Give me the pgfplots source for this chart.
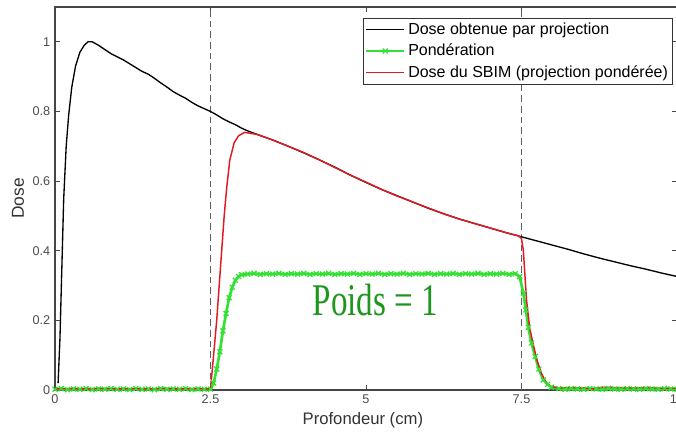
\documentclass[border=0pt]{standalone}
\usepackage{fontspec}
\setmainfont{Liberation Sans}
\newfontfamily\serifont{Liberation Serif}
\usepackage{pgfplots}
\pgfplotsset{compat=1.18}
\definecolor{pgreen}{RGB}{50,225,50}
\definecolor{tgreen}{RGB}{30,150,30}
\definecolor{axgray}{RGB}{70,70,70}
\definecolor{dgray}{RGB}{95,95,95}
\definecolor{sred}{RGB}{225,25,35}
\begin{document}
\begin{tikzpicture}
\begin{axis}[
  scale only axis,
  width=466.5pt, height=287.25pt,
  xmin=0, xmax=10, ymin=0, ymax=1.1,
  xtick={0,2.5,5,7.5,10},
  xticklabels={0,2.5,5,7.5,10},
  ytick={0,0.2,0.4,0.6,0.8,1},
  yticklabels={0,0.2,0.4,0.6,0.8,1},
  tick align=inside,
  major tick length=3.75pt,
  axis line style={axgray, line width=0.8pt},
  tick style={axgray, line width=0.7pt},
  tick label style={font=\fontsize{9.5}{11}\selectfont, text=black!70},
  xlabel={Profondeur (cm)},
  ylabel={Dose},
  xlabel style={font=\fontsize{12.5}{14}\selectfont, text=black!80, at={(axis description cs:0.495,-0.078)}, anchor=center},
  ylabel style={font=\fontsize{13}{15}\selectfont, text=black!80, at={(axis description cs:-0.0595,0.5)}, anchor=center},
  clip=false,
  legend style={at={(rel axis cs:0.9936,0.972)}, anchor=north east,
    font=\fontsize{12}{14}\selectfont, draw=black!80, line width=0.6pt,
    inner sep=1.5pt, row sep=1.8pt, fill=white},
  legend cell align=left,
  legend image code/.code={\draw[mark repeat=2, mark phase=2] plot coordinates {(0cm,0cm) (0.5cm,0cm) (1cm,0cm)};},
]
% dashed verticals
\addplot[dgray, line width=1pt, dash pattern=on 5pt off 3pt, forget plot] coordinates {(2.5,0) (2.5,1.1)};
\addplot[dgray, line width=1pt, dash pattern=on 5pt off 3pt, forget plot] coordinates {(7.5,0) (7.5,1.1)};

% Dose obtenue par projection
\addplot[black, line width=1pt] coordinates {
(0.05,0.02) (0.08,0.15) (0.11,0.35) (0.14,0.55) (0.18,0.70) (0.22,0.79)
(0.27,0.87) (0.33,0.93) (0.40,0.97) (0.47,0.99) (0.53,1.00) (0.60,1.00)
(0.70,0.99) (0.80,0.978) (0.90,0.966) (1.00,0.957) (1.10,0.948) (1.20,0.937)
(1.30,0.926) (1.40,0.915) (1.50,0.907) (1.60,0.895) (1.70,0.882) (1.80,0.870)
(1.90,0.857) (2.00,0.847) (2.10,0.838) (2.20,0.826) (2.30,0.816) (2.40,0.808)
(2.50,0.800) (2.60,0.790) (2.70,0.779) (2.80,0.770) (2.90,0.762) (3.00,0.752)
(3.10,0.744) (3.25,0.734) (3.50,0.718) (3.75,0.700) (4.00,0.681) (4.25,0.661)
(4.50,0.640) (4.75,0.617) (5.00,0.596) (5.25,0.576) (5.50,0.558) (5.75,0.540)
(6.00,0.522) (6.25,0.506) (6.50,0.491) (6.75,0.478) (7.00,0.465) (7.25,0.452)
(7.50,0.440) (7.75,0.428) (8.00,0.416) (8.25,0.404) (8.50,0.391) (8.75,0.379)
(9.00,0.368) (9.25,0.357) (9.50,0.347) (9.75,0.336) (10.0,0.326)
};
\addlegendentry{Dose obtenue par projection}

% Ponderation
\addplot[pgreen, line width=2pt, mark=x, mark size=2.6pt, mark options={line width=1pt}] coordinates {
(0.0,0.002) (0.1,0.004) (0.2,0.001) (0.3,0.003) (0.4,0.002) (0.5,0.004) (0.6,0.001)
(0.7,0.003) (0.8,0.002) (0.9,0.004) (1.0,0.002) (1.1,0.003) (1.2,0.001) (1.3,0.004)
(1.4,0.002) (1.5,0.003) (1.6,0.001) (1.7,0.004) (1.8,0.002) (1.9,0.003) (2.0,0.002)
(2.1,0.004) (2.2,0.001) (2.3,0.003) (2.4,0.002) (2.5,0.002)
(2.55,0.02) (2.60,0.06) (2.65,0.11) (2.70,0.17) (2.75,0.22) (2.80,0.265)
(2.85,0.295) (2.90,0.315) (2.95,0.326) (3.00,0.331)
(3.1,0.333) (3.2,0.335) (3.3,0.332) (3.4,0.334) (3.5,0.333) (3.6,0.335) (3.7,0.332)
(3.8,0.334) (3.9,0.333) (4.0,0.335) (4.1,0.332) (4.2,0.334) (4.3,0.333) (4.4,0.335)
(4.5,0.332) (4.6,0.334) (4.7,0.333) (4.8,0.335) (4.9,0.332) (5.0,0.334) (5.1,0.333)
(5.2,0.335) (5.3,0.332) (5.4,0.334) (5.5,0.333) (5.6,0.335) (5.7,0.332) (5.8,0.334)
(5.9,0.333) (6.0,0.335) (6.1,0.332) (6.2,0.334) (6.3,0.333) (6.4,0.335) (6.5,0.332)
(6.6,0.334) (6.7,0.333) (6.8,0.335) (6.9,0.332) (7.0,0.334) (7.1,0.333) (7.2,0.335)
(7.3,0.332) (7.4,0.334) (7.47,0.326)
(7.53,0.278) (7.57,0.23) (7.61,0.18) (7.66,0.135) (7.72,0.096) (7.78,0.06)
(7.85,0.029) (7.92,0.016) (7.98,0.008)
(8.1,0.004) (8.2,0.002) (8.3,0.004) (8.4,0.003) (8.5,0.002) (8.6,0.004) (8.7,0.003)
(8.8,0.002) (8.9,0.004) (9.0,0.003) (9.1,0.002) (9.2,0.004) (9.3,0.003) (9.4,0.002)
(9.5,0.004) (9.6,0.003) (9.7,0.002) (9.8,0.004) (9.9,0.003) (10.0,0.002)
};
\addlegendentry{Pondération}

% Dose du SBIM
\addplot[sred, line width=1.1pt] coordinates {
(0.0,0.003) (0.25,0.004) (0.5,0.003) (0.75,0.005) (1.0,0.003) (1.25,0.004)
(1.5,0.003) (1.75,0.005) (2.0,0.003) (2.25,0.004) (2.5,0.003)
(2.55,0.10) (2.60,0.20) (2.64,0.30) (2.68,0.40) (2.72,0.50) (2.76,0.58)
(2.81,0.66) (2.88,0.71) (2.95,0.73) (3.05,0.740)
(3.25,0.734) (3.50,0.718) (3.75,0.700) (4.00,0.682) (4.25,0.661)
(4.50,0.639) (4.75,0.617) (5.00,0.597) (5.25,0.576) (5.50,0.557) (5.75,0.540)
(6.00,0.523) (6.25,0.506) (6.50,0.491) (6.75,0.478) (7.00,0.465) (7.25,0.452)
(7.45,0.443) (7.50,0.435) (7.53,0.40) (7.58,0.26) (7.63,0.18) (7.69,0.13)
(7.75,0.085) (7.82,0.048) (7.90,0.02) (7.97,0.01)
(8.1,0.006) (8.3,0.007) (8.5,0.006) (8.65,0.003) (8.8,0.008) (9.0,0.007)
(9.25,0.006) (9.5,0.007) (9.75,0.005) (10.0,0.005)
};
\addlegendentry{Dose du SBIM (projection pondérée)}

\node[anchor=base, text=tgreen, font=\serifont\fontsize{34}{36}\selectfont, xscale=0.73] at (axis cs:5.15,0.213) {Poids = 1};
\end{axis}
\pgfresetboundingbox
\useasboundingbox (-41.25pt,-32.25pt) rectangle (465.75pt,292.5pt);
\end{tikzpicture}
\end{document}
